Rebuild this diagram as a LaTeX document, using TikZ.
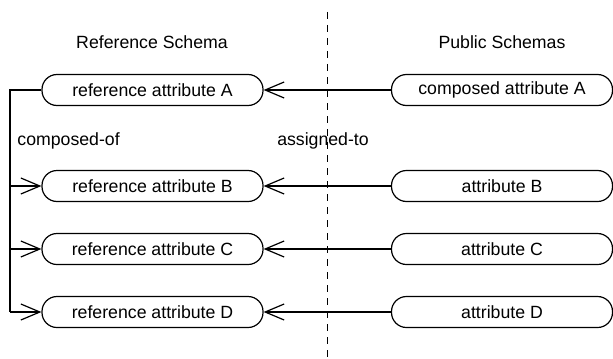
\documentclass[tikz,border=0pt]{standalone}
\usepackage{fontspec}
\setmainfont{Liberation Sans}
\usetikzlibrary{arrows.meta}
\begin{document}
\begin{tikzpicture}[x=0.5pt,y=-0.5pt,
  attr/.style={draw,line width=0.6pt,rounded corners=7.5pt,minimum width=110.5pt,minimum height=15.5pt,inner sep=0pt,font=\fontsize{8.85}{10}\selectfont},
  lbl/.style={inner sep=0pt,font=\fontsize{8.85}{10}\selectfont},
  conn/.style={line width=0.6pt},
  arr/.style={conn,-{Straight Barb[length=9.5pt,width=8pt,line width=0.6pt]}},
  divider/.style={line width=0.5pt,dash pattern=on 3.5pt off 3pt}]
\useasboundingbox (0,0) rectangle (613,358);
\coordinate (dtop) at (327,12);
\coordinate (dbot) at (327,358);
\draw[divider] (dtop) -- (dbot);
\node[lbl] (t1) at (152,42) {Reference Schema};
\node[lbl] (t2) at (502,42) {Public Schemas};
\node[attr] (rA) at (152.5,90) {reference attribute A};
\node[attr] (rB) at (152.5,186) {reference attribute B};
\node[attr] (rC) at (152.5,249) {reference attribute C};
\node[attr] (rD) at (152.5,312) {reference attribute D};
\node[attr] (pA) at (502,90) {composed attribute A};
\node[attr] (pB) at (502,186) {attribute B};
\node[attr] (pC) at (502,249) {attribute C};
\node[attr] (pD) at (502,312) {attribute D};
\node[lbl,anchor=west] (co) at (17,141) {composed-of};
\node[lbl] (as) at (323,141) {assigned-to};
\coordinate (cA) at (10,90);
\coordinate (cB) at (10,186);
\coordinate (cC) at (10,249);
\coordinate (cD) at (10,312);
\draw[conn] (rA.west) -- (cA) -- (cD);
\draw[arr] (cB) -- (rB.west);
\draw[arr] (cC) -- (rC.west);
\draw[arr] (cD) -- (rD.west);
\draw[arr] (pA.west) -- (rA.east);
\draw[arr] (pB.west) -- (rB.east);
\draw[arr] (pC.west) -- (rC.east);
\draw[arr] (pD.west) -- (rD.east);
\end{tikzpicture}
\end{document}
